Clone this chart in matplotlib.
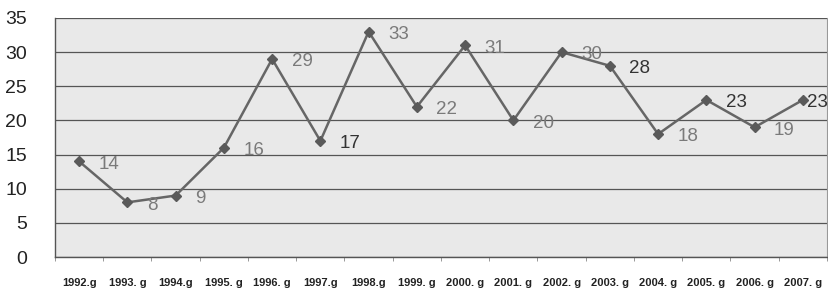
import numpy as np
import matplotlib
matplotlib.use("Agg")
import matplotlib.pyplot as plt

plt.rcParams['font.family'] = ['Liberation Sans', 'DejaVu Sans']

# data
years = ["1992.g", "1993. g", "1994.g", "1995. g", "1996. g", "1997.g",
         "1998.g", "1999. g", "2000. g", "2001. g", "2002. g", "2003. g",
         "2004. g", "2005. g", "2006. g", "2007. g"]
values = [14, 8, 9, 16, 29, 17, 33, 22, 31, 20, 30, 28, 18, 23, 19, 23]
# labels that came out darker in the print
dark_labels = [5, 11, 13, 15]

yticks = [0, 5, 10, 15, 20, 25, 30, 35]

fig = plt.figure(figsize=(8.29, 2.91), dpi=100)
ax = fig.add_axes([55 / 829, 34 / 291, 772 / 829, 239 / 291])
ax.set_facecolor("#e9e9e9")

x = np.arange(len(values))
ax.plot(x, values, color="#666666", lw=1.8, marker="D", ms=5.5,
        mfc="#5a5a5a", mec="#5a5a5a", zorder=3)

for i, v in enumerate(values):
    col = "#333333" if i in dark_labels else "#7a7a7a"
    dx = 14
    if i == len(values) - 1:
        dx = 3  # squeezed against the right edge in the original
    ax.annotate(str(v), (i, v), xytext=(dx, -2), textcoords="offset points",
                ha="left", va="center", fontsize=13.5, color=col, zorder=4)

ax.set_xlim(-0.5, len(values) - 0.5)
ax.set_ylim(0, 35)
ax.set_yticks(yticks)
ax.set_yticklabels([str(t) for t in yticks], fontsize=14, color="#222222")
ax.yaxis.grid(True, color="#555555", lw=0.9)
ax.set_axisbelow(True)
ax.tick_params(axis="y", length=0, pad=20)

ax.set_xticks(x)
ax.set_xticklabels(years, fontsize=8, fontweight="bold", color="#222222")
ax.set_xticks(np.arange(len(values) + 1) - 0.5, minor=True)
ax.tick_params(axis="x", which="major", length=0, pad=15)
ax.tick_params(axis="x", which="minor", length=3, color="#888888")

for side in ["left", "bottom"]:
    ax.spines[side].set_color("#555555")
    ax.spines[side].set_linewidth(1.0)
ax.spines["right"].set_color("#999999")
ax.spines["top"].set_visible(False)

fig.savefig("out.png", dpi=100)
